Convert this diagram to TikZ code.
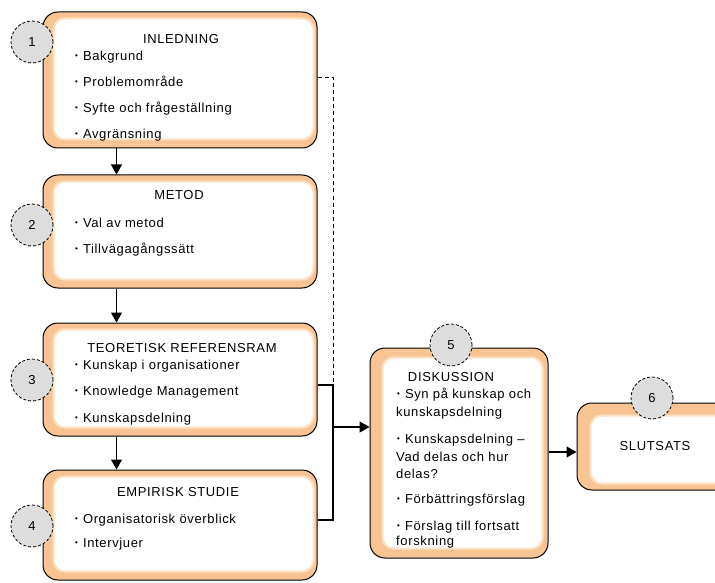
\documentclass[tikz,border=0pt]{standalone}
\usepackage{fontspec}
\setmainfont{Liberation Sans}[LetterSpace=5]
\usetikzlibrary{arrows.meta}
\definecolor{frameorange}{RGB}{248,196,148}
\definecolor{softorange}{RGB}{253,226,198}
\definecolor{circgray}{RGB}{221,221,221}
\newcommand{\bul}{\raisebox{2pt}{\fontsize{8}{8}\selectfont\textbullet}\hspace{5pt}}
\begin{document}
\begin{tikzpicture}[x=1pt,y=-1pt,
  every node/.style={font=\fontsize{13}{15}\selectfont},
  outerbox/.style={draw=black, line width=1pt, fill=frameorange, rounded corners=15pt, inner sep=0pt},
  circ/.style={circle, draw=black, line width=0.8pt, dash pattern=on 3pt off 2pt, fill=circgray, minimum size=42pt, inner sep=0pt},
  ttl/.style={anchor=base, inner sep=0pt},
  itm/.style={anchor=base west, inner sep=0pt},
  arr/.style={draw=black, line width=1.2pt, -{Triangle[width=11pt,length=10pt]}},
  conn/.style={draw=black, line width=1.2pt},
  dsh/.style={draw=black, line width=1pt, dash pattern=on 4pt off 3pt}]
\useasboundingbox (0,0) rectangle (715,583);
\clip (0,0) rectangle (715,583);

% boxes
\node[outerbox, minimum width=274pt, minimum height=136pt] (b1) at (180,80) {};
\node[outerbox, minimum width=274pt, minimum height=113pt] (b2) at (180,231.5) {};
\node[outerbox, minimum width=274pt, minimum height=113pt] (b3) at (180,379.5) {};
\node[outerbox, minimum width=274pt, minimum height=110pt] (b4) at (180,525) {};
\node[outerbox, minimum width=178pt, minimum height=210pt] (b5) at (459,453) {};
\node[outerbox, minimum width=160pt, minimum height=87pt] (b6) at (657,446.5) {};

\foreach \b/\l/\t/\r/\bo in {b1/12/8/5/10, b2/12/8/5/10, b3/12/8/5/10, b4/12/8/5/10, b5/14/11/7/11, b6/15/14/5/8} {
  \fill[softorange, rounded corners=12pt] ([shift={(\l-2,\t-2)}]\b.north west) rectangle ([shift={(-\r+2,-\bo+2)}]\b.south east);
  \fill[white, rounded corners=11pt] ([shift={(\l,\t)}]\b.north west) rectangle ([shift={(-\r,-\bo)}]\b.south east);
}

% circles
\node[circ] (c1) at (32,42) {1};
\node[circ] (c2) at (32,225) {2};
\node[circ] (c3) at (32,380) {3};
\node[circ] (c4) at (32,526) {4};
\node[circ] (c5) at (451,345) {5};
\node[circ] (c6) at (652,398) {6};

% box 1
\node[ttl] (t1) at (181,44) {INLEDNING};
\node[itm] (i11) at (75,61) {\bul Bakgrund};
\node[itm] (i12) at (75,87) {\bul Problemområde};
\node[itm] (i13) at (75,113) {\bul Syfte och frågeställning};
\node[itm] (i14) at (75,139) {\bul Avgränsning};
% box 2
\node[ttl] (t2) at (179,200) {METOD};
\node[itm] (i21) at (75,227) {\bul Val av metod};
\node[itm] (i22) at (75,253) {\bul Tillvägagångssätt};
% box 3
\node[ttl] (t3) at (182,352) {TEORETISK REFERENSRAM};
\node[itm] (i31) at (75,369) {\bul Kunskap i organisationer};
\node[itm] (i32) at (75,395) {\bul Knowledge Management};
\node[itm] (i33) at (75,422) {\bul Kunskapsdelning};
% box 4
\node[ttl] (t4) at (178,496) {EMPIRISK STUDIE};
\node[itm] (i41) at (75,523) {\bul Organisatorisk överblick};
\node[itm] (i42) at (75,547) {\bul Intervjuer};
% box 5
\node[ttl] (t5) at (451,381) {DISKUSSION};
\node[itm] (i51) at (397,398) {\bul Syn på kunskap och};
\node[itm] (i52) at (396,416) {kunskapsdelning};
\node[itm] (i53) at (397,443) {\bul Kunskapsdelning –};
\node[itm] (i54) at (396,461) {Vad delas och hur};
\node[itm] (i55) at (396,478) {delas?};
\node[itm] (i56) at (397,503) {\bul Förbättringsförslag};
\node[itm] (i57) at (397,530) {\bul Förslag till fortsatt};
\node[itm] (i58) at (396,545) {forskning};
% box 6
\node[ttl] (t6) at (655,450) {SLUTSATS};

% connectors
\draw[arr] ([xshift=74pt]b1.south west) -- ([xshift=74pt]b2.north west);
\draw[arr] ([xshift=74pt]b2.south west) -- ([xshift=74pt]b3.north west);
\draw[arr] ([xshift=74pt]b3.south west) -- ([xshift=74pt]b4.north west);

\coordinate (j1) at (333,78);
\coordinate (j3) at (333,385);
\coordinate (j4) at (333,520);
\coordinate (jm) at (333,427);
\draw[dsh] (b1.east |- j1) -- (j1) -- (j3);
\draw[conn] (b3.east |- j3) -- (j3) -- (j4) -- (b4.east |- j4);
\draw[arr] (jm) -- (jm -| b5.west);
\draw[arr] ([yshift=1pt]b5.east) -- ([yshift=1pt]b5.east -| b6.west);
\end{tikzpicture}
\end{document}
